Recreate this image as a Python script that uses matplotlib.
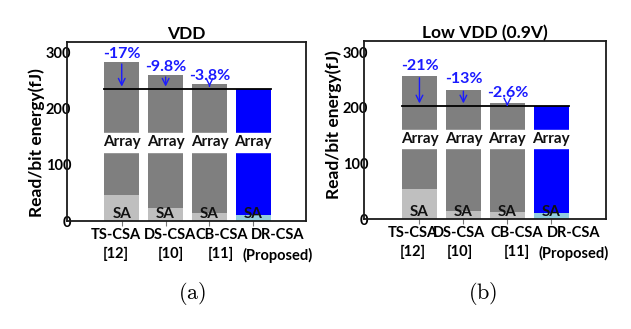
import matplotlib
matplotlib.use("Agg")
from matplotlib import pyplot as plt
from matplotlib import transforms

plt.rcParams['font.family'] = ['Lato', 'DejaVu Sans']

designs = ["TS-CSA\n[12]", "DS-CSA\n[10]", "CB-CSA\n[11]", "DR-CSA\n(Proposed)"]

# read/bit energy (fJ): total and sense-amp share
total_vdd = [282, 259, 243, 234]
sa_vdd = [47, 23, 14, 11]
saving_vdd = ["-17%", "-9.8%", "-3.8%"]

total_low = [257, 233, 208, 203]
sa_low = [54, 15, 12, 11]
saving_low = ["-21%", "-13%", "-2.6%"]

arr_gray = "#7f7f7f"
sa_gray = "#bfbfbf"
arr_blue = "#0000ff"
sa_blue = "#93cddd"
txt_blue = "#1a1aff"


def draw_panel(ax, total, sa, saving, title, brk, lab_shift, pct_off, ylab_y):
    x = list(range(len(total)))
    arr = [t - s for t, s in zip(total, sa)]
    sa_cols = [sa_gray] * 3 + [sa_blue]
    arr_cols = [arr_gray] * 3 + [arr_blue]
    ax.bar(x, sa, width=0.8, color=sa_cols, zorder=2)
    ax.bar(x, arr, width=0.8, bottom=sa, color=arr_cols, zorder=2)
    # white band that splits each bar
    ax.axhspan(brk[0], brk[1], color="white", zorder=2.5)
    for i in x:
        ax.text(i, (brk[0] + brk[1]) / 2, "Array", ha="center", va="center",
                fontsize=11, fontweight="bold", color="#111111", zorder=3)
        ax.text(i, 12, "SA", ha="center", va="center", fontsize=11,
                fontweight="bold", color="#111111", zorder=3)
    ref = total[-1]
    ax.plot([-0.4, 3.4], [ref, ref], color="black", lw=1.3, zorder=4)
    for i, lab in enumerate(saving):
        ax.annotate("", xy=(i, ref), xytext=(i, total[i] + 2),
                    arrowprops=dict(arrowstyle="->", color=txt_blue, lw=1.0,
                                    mutation_scale=12), zorder=5)
        ax.text(i, total[i] + pct_off, lab, ha="center", va="center",
                fontsize=11.5, fontweight="bold", color=txt_blue, zorder=5)
    ax.set_xlim(-1.25, 4.2)
    ax.set_ylim(0, 318)
    ax.set_yticks([0, 100, 200, 300])
    ax.set_xticks(x)
    ax.set_xticklabels([])
    trans = transforms.blended_transform_factory(ax.transData, ax.transAxes)
    for i, lab in enumerate(designs):
        ax.text(i + lab_shift[i], -0.04, lab, transform=trans, ha="center",
                va="top", multialignment="center", fontsize=10.5,
                fontweight="bold", linespacing=1.45)
    ax.tick_params(axis="y", length=0, pad=-3, labelsize=10.5)
    for t in ax.get_yticklabels():
        t.set_fontweight("bold")
    ax.tick_params(axis="x", direction="inout", length=7, color="#777777")
    for sp in ax.spines.values():
        sp.set_linewidth(1.3)
        sp.set_color("#1a1a1a")
    ax.set_ylabel("Read/bit energy(fJ)", fontsize=12.5, fontweight="bold")
    ax.yaxis.set_label_coords(-0.093, ylab_y)
    ax.set_title(title, fontsize=12.5, fontweight="bold", pad=1)


fig = plt.figure(figsize=(6.31, 3.29), dpi=100)
ax1 = fig.add_axes([0.106, 0.328, 0.379, 0.544])
ax2 = fig.add_axes([0.577, 0.334, 0.383, 0.541])

draw_panel(ax1, total_vdd, sa_vdd, saving_vdd, "VDD", (123, 157),
           [-0.14, 0.11, 0.27, 0.55], 15, 0.44)
draw_panel(ax2, total_low, sa_low, saving_low, "Low VDD (0.9V)", (127, 160),
           [-0.14, -0.09, 0.22, 0.5], 19, 0.53)
ax2.set_ylim(0, 320)
ax2.set_xlim(-1.26, 4.24)

fig.text(0.304, 0.109, r"$\mathrm{(a)}$", ha="center", va="center",
         fontsize=16, math_fontfamily="cm")
fig.text(0.765, 0.109, r"$\mathrm{(b)}$", ha="center", va="center",
         fontsize=16, math_fontfamily="cm")

fig.savefig("out.png", dpi=100)
